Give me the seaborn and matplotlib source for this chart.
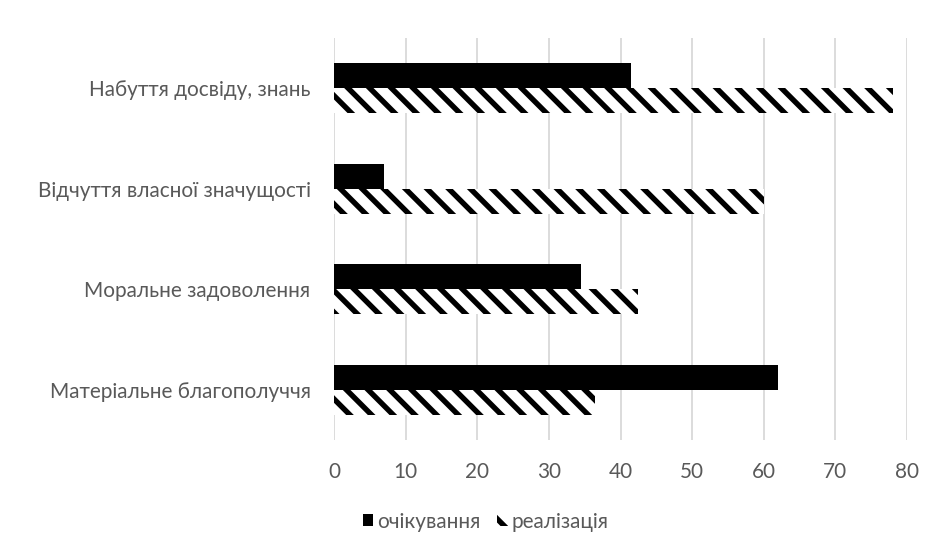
import matplotlib
matplotlib.use('Agg')
import pandas as pd
import matplotlib.pyplot as plt
import seaborn as sns
from matplotlib.patches import Patch

# ---------------------------------------------------
# Дані з діаграми
# ---------------------------------------------------
categories = ['Набуття досвіду, знань', 'Відчуття власної значущості',
              'Моральне задоволення', 'Матеріальне благополуччя']
series = ['очікування', 'реалізація']
expected = [41.5, 7, 34.5, 62]
realized = [78, 60, 42.5, 36.5]
x_ticks = [0, 10, 20, 30, 40, 50, 60, 70, 80]
# ---------------------------------------------------

DPI = 130
TEXT_COLOR = '#595959'
FONT_SIZE = 11.5
HATCH = '\\\\'

df = pd.DataFrame({
    'category': categories * 2,
    'series': [series[0]] * len(categories) + [series[1]] * len(categories),
    'value': expected + realized,
})

sns.set_style('white')
plt.rcParams['font.family'] = ['Lato', 'DejaVu Sans']
plt.rcParams['hatch.linewidth'] = 3.0

fig = plt.figure(figsize=(943 / DPI, 558 / DPI), dpi=DPI)
ax = fig.add_axes([334 / 943, 1 - 440 / 558, (907 - 334) / 943, (440 - 38) / 558])

sns.barplot(data=df, y='category', x='value', hue='series', order=categories,
            hue_order=series, palette=['black', 'white'], width=0.5, orient='h',
            saturation=1, legend=False, ax=ax)

# перша серія - суцільна, друга - штрихування
for bar in ax.containers[0]:
    bar.set_linewidth(0)
for bar in ax.containers[1]:
    bar.set_facecolor('white')
    bar.set_edgecolor('black')
    bar.set_hatch(HATCH)
    bar.set_linewidth(0)

ax.set_xlim(0, 80)
ax.set_xticks(x_ticks)
ax.grid(axis='x', color='#d9d9d9', linewidth=1)
ax.grid(axis='y', visible=False)
ax.set_axisbelow(True)
for s in ax.spines.values():
    s.set_visible(False)
ax.set_xlabel('')
ax.set_ylabel('')
ax.tick_params(axis='x', length=0, pad=12, labelsize=FONT_SIZE, labelcolor=TEXT_COLOR)
ax.tick_params(axis='y', length=0, pad=13, labelsize=FONT_SIZE, labelcolor=TEXT_COLOR)

handles = [
    Patch(facecolor='black', edgecolor='black', linewidth=0, label=series[0]),
    Patch(facecolor='white', edgecolor='black', hatch=HATCH, linewidth=0, label=series[1]),
]
leg = fig.legend(handles=handles, loc='center', bbox_to_anchor=(0.515, 0.065), ncol=2,
                 frameon=False, handlelength=0.5, handleheight=0.5, handletextpad=0.2,
                 columnspacing=0.8, fontsize=FONT_SIZE)
for t in leg.get_texts():
    t.set_color(TEXT_COLOR)

fig.savefig('out.png', dpi=DPI)
